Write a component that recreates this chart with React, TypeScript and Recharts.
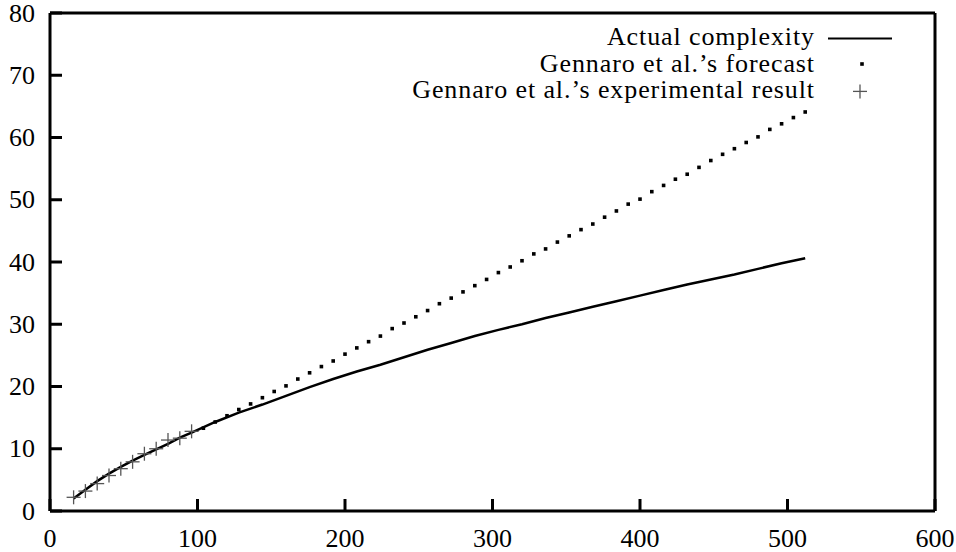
import {
  ComposedChart,
  Line,
  Scatter,
  XAxis,
  YAxis,
  Legend,
} from 'recharts';

const FONT = 'Liberation Serif';

const xTicks = [0, 100, 200, 300, 400, 500, 600];
const yTicks = [0, 10, 20, 30, 40, 50, 60, 70, 80];

const legendNames = [
  'Actual complexity',
  'Gennaro et al.’s forecast',
  'Gennaro et al.’s experimental result',
];

// actual complexity curve
const actualX = [
  16, 24, 32, 40, 48, 56, 64, 72, 80, 88, 96, 112, 128, 144, 160, 176, 192, 208, 224,
  240, 256, 272, 288, 304, 320, 336, 352, 368, 384, 400, 416, 432, 448, 464, 480, 496, 512,
];
const actualY = [
  2.0, 3.4, 4.8, 6.0, 7.1, 8.1, 9.0, 9.9, 10.8, 11.8, 12.6, 14.3, 15.8, 17.1, 18.5, 19.9,
  21.2, 22.4, 23.5, 24.7, 25.9, 27.0, 28.1, 29.1, 30.0, 31.0, 31.9, 32.8, 33.7, 34.6, 35.5,
  36.4, 37.2, 38.0, 38.9, 39.8, 40.6,
];

// forecast (dots)
const forecastX = [
  104, 112, 120, 128, 136, 144, 152, 160, 168, 176, 184, 192, 200, 208, 216, 224, 232, 240,
  248, 256, 264, 272, 280, 288, 296, 304, 312, 320, 328, 336, 344, 352, 360, 368, 376, 384,
  392, 400, 408, 416, 424, 432, 440, 448, 456, 464, 472, 480, 488, 496, 504, 512,
];
const forecastY = [
  13.3, 14.3, 15.3, 16.3, 17.2, 18.2, 19.2, 20.1, 21.2, 22.2, 23.2, 24.1, 25.2, 26.2, 27.2,
  28.1, 29.3, 30.2, 31.2, 32.2, 33.3, 34.2, 35.2, 36.2, 37.2, 38.3, 39.2, 40.2, 41.3, 42.1,
  43.2, 44.2, 45.2, 46.1, 47.2, 48.2, 49.3, 50.1, 51.3, 52.3, 53.3, 54.1, 55.2, 56.3, 57.3,
  58.2, 59.2, 60.1, 61.3, 62.2, 63.2, 64.1,
];

// experimental result (plus signs)
const experimentX = [16, 24, 32, 40, 48, 56, 64, 72, 80, 88, 96];
const experimentY = [2.2, 3.2, 4.4, 5.7, 6.8, 7.9, 9.2, 10.0, 11.4, 11.7, 12.8];

const actualData = actualX.map((x, i) => ({ x, y: actualY[i] }));
const forecastData = forecastX.map((x, i) => ({ x, y: forecastY[i] }));
const experimentData = experimentX.map((x, i) => ({ x, y: experimentY[i] }));

const TICK_LEN = 12;

// gnuplot-style ticks, drawn inward from the frame
const bottomTick = (props: any) => {
  const { x, y, payload } = props;
  return (
    <g>
      <path d={`M${x},${y}V${y - TICK_LEN}`} stroke="#000" strokeWidth={3} fill="none" />
      <text x={x} y={y + 35.5} textAnchor="middle" fontFamily={FONT} fontSize={26} fill="#000">
        {payload.value}
      </text>
    </g>
  );
};

const leftTick = (props: any) => {
  const { x, y, payload } = props;
  return (
    <g>
      <path d={`M${x},${y}H${x + TICK_LEN}`} stroke="#000" strokeWidth={3} fill="none" />
      <text x={x - 15} y={y + 8.7} textAnchor="end" fontFamily={FONT} fontSize={26} fill="#000">
        {payload.value}
      </text>
    </g>
  );
};

const topTick = (props: any) => {
  const { x, y } = props;
  return <path d={`M${x},${y}V${y + TICK_LEN}`} stroke="#000" strokeWidth={3} fill="none" />;
};

const rightTick = (props: any) => {
  const { x, y } = props;
  return <path d={`M${x},${y}H${x - TICK_LEN}`} stroke="#000" strokeWidth={3} fill="none" />;
};

function SquareDot(props: any) {
  const { cx, cy } = props;
  return <rect x={cx - 1.8} y={cy - 1.8} width={3.6} height={3.6} fill="#000" />;
}

function PlusMark(props: any) {
  const { cx, cy } = props;
  return (
    <g stroke="#555" strokeWidth={1.3}>
      <line x1={cx - 7} x2={cx + 7} y1={cy} y2={cy} />
      <line x1={cx} x2={cx} y1={cy - 7} y2={cy + 7} />
    </g>
  );
}

function renderLegend() {
  return (
    <div style={{ fontFamily: FONT, fontSize: 26, letterSpacing: 0.9, color: '#000' }}>
      {legendNames.map((name, i) => (
        <div key={name} style={{ display: 'flex', height: 26.7, lineHeight: '26.7px' }}>
          <span style={{ width: 815, textAlign: 'right', whiteSpace: 'nowrap' }}>{name}</span>
          <svg width={64} height={26.7} style={{ marginLeft: 13, display: 'block' }}>
            {i === 0 && <line x1={0} x2={64} y1={14.4} y2={14.4} stroke="#000" strokeWidth={2} />}
            {i === 1 && <rect x={32.2} y={11.2} width={3.6} height={3.6} fill="#000" />}
            {i === 2 && (
              <g stroke="#555" strokeWidth={1.3}>
                <line x1={25} x2={39} y1={14.4} y2={14.4} />
                <line x1={32} x2={32} y1={7.4} y2={21.4} />
              </g>
            )}
          </svg>
        </div>
      ))}
    </div>
  );
}

const frameLine = { stroke: '#000', strokeWidth: 3 };

export default function App() {
  return (
    <div style={{ position: 'absolute', left: 0, top: 0, background: '#fff' }}>
      <ComposedChart
        width={956}
        height={552}
        margin={{ top: 12, right: 20, bottom: 0, left: 0 }}
      >
        <XAxis
          dataKey="x"
          type="number"
          domain={[0, 600]}
          ticks={xTicks}
          interval={0}
          height={41}
          tick={bottomTick}
          tickSize={0}
          tickMargin={0}
          tickLine={false}
          axisLine={frameLine}
        />
        <XAxis
          xAxisId="top"
          orientation="top"
          type="number"
          domain={[0, 600]}
          ticks={xTicks}
          interval={0}
          height={1}
          tick={topTick}
          tickSize={0}
          tickMargin={0}
          tickLine={false}
          axisLine={frameLine}
        />
        <YAxis
          dataKey="y"
          type="number"
          domain={[0, 80]}
          ticks={yTicks}
          interval={0}
          width={50}
          tick={leftTick}
          tickSize={0}
          tickMargin={0}
          tickLine={false}
          axisLine={frameLine}
        />
        <YAxis
          yAxisId="right"
          orientation="right"
          type="number"
          domain={[0, 80]}
          ticks={yTicks}
          interval={0}
          width={1}
          tick={rightTick}
          tickSize={0}
          tickMargin={0}
          tickLine={false}
          axisLine={frameLine}
        />
        <Legend
          layout="vertical"
          align="center"
          verticalAlign="middle"
          content={renderLegend}
          wrapperStyle={{ top: 24, left: 0, width: 900, height: 'auto' }}
        />
        <Scatter
          name={legendNames[2]}
          data={experimentData}
          shape={PlusMark}
          isAnimationActive={false}
        />
        <Line
          name={legendNames[0]}
          data={actualData}
          dataKey="y"
          type="linear"
          stroke="#000"
          strokeWidth={2.5}
          dot={false}
          activeDot={false}
          isAnimationActive={false}
        />
        <Scatter
          name={legendNames[1]}
          data={forecastData}
          shape={SquareDot}
          isAnimationActive={false}
        />
      </ComposedChart>
    </div>
  );
}
